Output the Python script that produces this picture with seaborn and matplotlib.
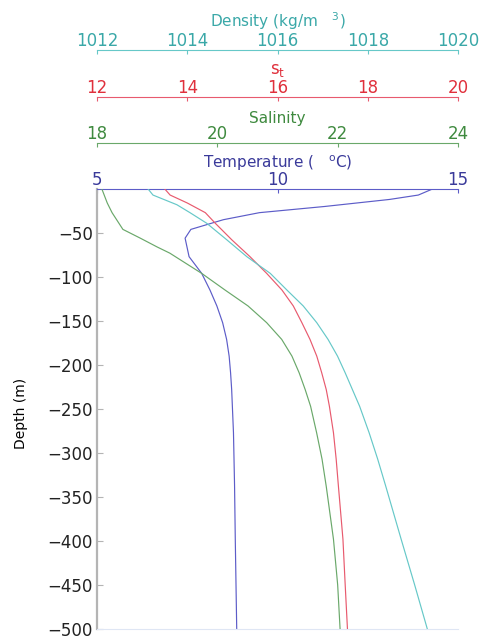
import numpy as np
import pandas as pd
import seaborn as sns
import matplotlib.pyplot as plt

# temperature profile
temp_depth = [0, -7, -12, -20, -27, -35, -46, -56, -77, -96, -115, -133, -152,
              -171, -190, -209, -228, -277, -337, -398, -500]
temp_vals = [14.3, 13.9, 13.1, 11.3, 9.5, 8.5, 7.6, 7.44, 7.55, 7.9, 8.13, 8.32, 8.48,
             8.59, 8.66, 8.70, 8.73, 8.78, 8.81, 8.83, 8.87]

# salinity profile
sal_depth = [0, -16, -27, -46, -56, -66, -73, -96, -115, -133, -152, -171,
             -190, -209, -228, -247, -277, -307, -338, -368, -398, -450, -500]
sal_vals = [18.08, 18.17, 18.25, 18.43, 18.72, 19.0, 19.21, 19.74, 20.13, 20.51, 20.82, 21.07,
            21.24, 21.36, 21.46, 21.55, 21.65, 21.74, 21.81, 21.87, 21.93, 22.0, 22.04]

# sigma-t profile
sig_depth = [0, -7, -16, -27, -39, -58, -77, -96, -115, -133, -152, -171,
             -190, -209, -228, -247, -277, -307, -338, -368, -398, -450, -500]
sig_vals = [13.5, 13.62, 14.0, 14.4, 14.62, 14.99, 15.39, 15.76, 16.1, 16.35, 16.54, 16.72,
            16.87, 16.98, 17.08, 17.15, 17.24, 17.3, 17.35, 17.4, 17.45, 17.5, 17.55]

# density profile
den_depth = [0, -7, -18, -27, -39, -58, -77, -96, -115, -133, -152, -171,
             -190, -209, -228, -247, -277, -307, -338, -368, -398, -450, -500]
den_vals = [1013.13, 1013.24, 1013.77, 1014.06, 1014.43, 1014.88, 1015.32, 1015.84, 1016.21,
            1016.57, 1016.87, 1017.12, 1017.33, 1017.5, 1017.66, 1017.82, 1018.03, 1018.22,
            1018.4, 1018.57, 1018.74, 1019.04, 1019.32]

depth_ticks = [-500, -450, -400, -350, -300, -250, -200, -150, -100, -50]

plt.rcParams['font.family'] = ['DejaVu Sans']

fig = plt.figure(figsize=(4.81, 6.36), dpi=100)
ax = fig.add_axes([0.2017, 0.011, 0.7505, 0.692])
axes = [ax, ax.twiny(), ax.twiny(), ax.twiny()]

# (name, label, depth, values, xlim, ticks, line colour, text colour, spine offset, label y, label size)
series = [
    ("temp", "Temperature (   $^{\\mathrm{o}}$C)", temp_depth, temp_vals, (5, 15),
     [5, 10, 15], "#5c5cc8", "#3a3a9a", 1.0, 1.047, 11),
    ("sal", "Salinity", sal_depth, sal_vals, (18, 24),
     [18, 20, 22, 24], "#6aa86a", "#3f8a3f", 1.1045, 1.15, 11),
    ("sig", "s$_{\\mathrm{t}}$", sig_depth, sig_vals, (12, 20),
     [12, 14, 16, 18, 20], "#e85a6e", "#e0303c", 1.209, 1.262, 12),
    ("den", "Density (kg/m   $^{3}$)", den_depth, den_vals, (1012, 1020),
     [1012, 1014, 1016, 1018, 1020], "#66c8c8", "#3aa8a8", 1.316, 1.368, 11),
]

for a, (name, label, d, v, lim, ticks, lc, tc, off, ly, fs) in zip(axes, series):
    df = pd.DataFrame({name: v, "depth": d})
    sns.lineplot(data=df, x=name, y="depth", sort=False, estimator=None,
                 color=lc, linewidth=0.85, ax=a)
    a.set_xlim(*lim)
    a.set_xticks(ticks)
    a.xaxis.set_ticks_position("top")
    a.xaxis.set_label_position("top")
    a.set_xlabel(label, color=tc, fontsize=fs)
    a.xaxis.set_label_coords(0.5, ly)
    a.tick_params(axis="x", direction="in", length=3, width=0.8, color=lc,
                  labelcolor=tc, labelsize=12, pad=0)
    for s in ["left", "right", "bottom"]:
        a.spines[s].set_visible(False)
    a.spines["top"].set_color(lc)
    a.spines["top"].set_linewidth(0.8)
    if a is not ax:
        a.spines["top"].set_position(("axes", off))
        a.patch.set_visible(False)
        a.set_ylabel("")
        a.tick_params(axis="y", left=False, right=False, labelleft=False, labelright=False)

ax.set_ylim(-500, 0)
ax.set_yticks(depth_ticks)
ax.set_ylabel("Depth (m)", fontsize=10)
ax.yaxis.set_label_coords(-0.19, 0.49)
ax.spines["left"].set_visible(True)
ax.spines["left"].set_color("#b4b4b4")
ax.spines["left"].set_linewidth(1.6)
ax.spines["bottom"].set_visible(True)
ax.spines["bottom"].set_color("#dfe6f4")
ax.spines["bottom"].set_linewidth(0.8)
ax.tick_params(axis="y", direction="in", length=4, width=0.8, color="#b4b4b4",
               labelsize=12, pad=3, labelcolor="#222222")

fig.savefig("out.png", dpi=100)
